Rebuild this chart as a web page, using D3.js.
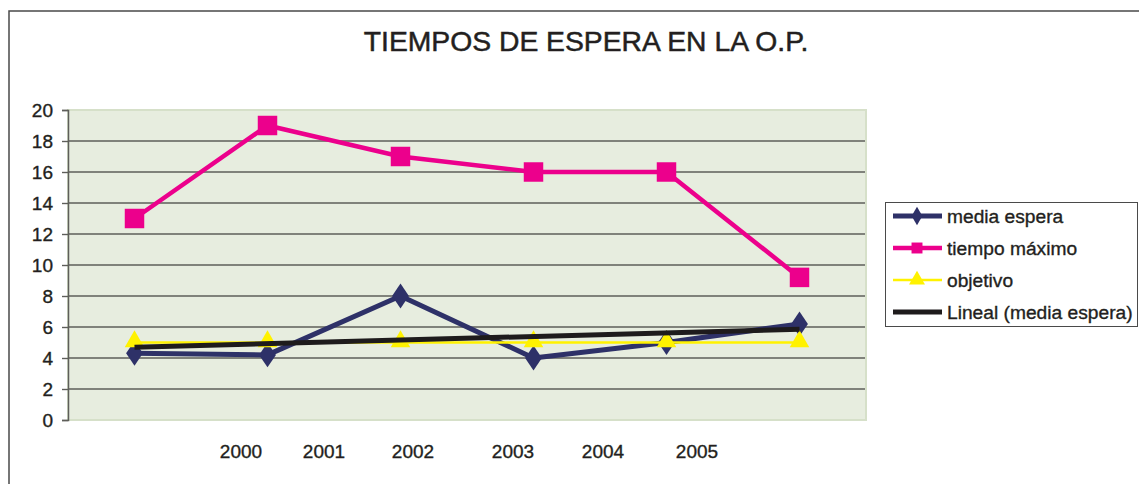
<!DOCTYPE html>
<html>
<head>
<meta charset="utf-8">
<script src="https://cdn.jsdelivr.net/npm/d3@7"></script>
<style>
  body { margin: 0; background: #fff; }
  text { font-family: "Liberation Sans", Arial, sans-serif; fill: #231f20; stroke: #231f20; stroke-width: 0.35px; }
</style>
</head>
<body>
<svg id="grafico" width="1139" height="484"></svg>
<script>
// Datos
var puntos = [1, 2, 3, 4, 5, 6];
var mediaEspera = [4.3, 4.2, 8, 4, 5, 6.2];
var tiempoMaximo = [13, 19, 17, 16, 16, 9.2];
var objetivo = [5, 5, 5, 5, 5, 5];
var tendencia = [4.7, 5.85]; // Lineal (media espera), valores en el primer y ultimo punto
var etiquetasX = ["2000", "2001", "2002", "2003", "2004", "2005"];
var ticksY = [0, 2, 4, 6, 8, 10, 12, 14, 16, 18, 20];

// Posiciones de las etiquetas del eje x (estan desplazadas en el original)
var posEtiquetasX = [241, 324, 413, 513, 603, 697];

var svg = d3.select("#grafico");

// Marco exterior
svg.append("path")
  .attr("d", "M9,484 L9,11 L1139,11")
  .attr("fill", "none")
  .attr("stroke", "#4a4a4a")
  .attr("stroke-width", 1.5);

// Titulo
svg.append("text")
  .attr("x", 586)
  .attr("y", 51)
  .attr("text-anchor", "middle")
  .style("font-size", "28.3px")
  .style("stroke-width", "0.5px")
  .text("TIEMPOS DE ESPERA EN LA O.P.");

var margen = { left: 68, right: 866, top: 110, bottom: 420 };

var x = d3.scaleBand()
  .domain(puntos)
  .range([margen.left, margen.right])
  .padding(0);

var y = d3.scaleLinear()
  .domain([0, 20])
  .range([margen.bottom, margen.top]);

function cx(d, i) { return x(puntos[i]) + x.bandwidth() / 2; }

// Fondo del area de trazado
svg.append("rect")
  .attr("x", margen.left)
  .attr("y", margen.top)
  .attr("width", margen.right - margen.left)
  .attr("height", margen.bottom - margen.top)
  .attr("fill", "#e7eddf")
  .attr("stroke", "#d6e0c9")
  .attr("stroke-width", 2);

// Lineas de division
svg.selectAll(".grid")
  .data(ticksY.filter(function (d) { return d > 0 && d < 20; }))
  .enter().append("line")
  .attr("class", "grid")
  .attr("x1", margen.left)
  .attr("x2", margen.right - 1)
  .attr("y1", function (d) { return y(d); })
  .attr("y2", function (d) { return y(d); })
  .attr("stroke", "#5e5e5a")
  .attr("stroke-width", 1.4);

// Eje y
var ejeY = svg.append("g")
  .attr("transform", "translate(" + margen.left + ",0)")
  .call(d3.axisLeft(y).tickValues(ticksY).tickSize(6).tickPadding(9));
ejeY.select(".domain").attr("stroke", "#5e5e5a").attr("stroke-width", 1.5);
ejeY.selectAll(".tick line").attr("stroke", "#5e5e5a").attr("stroke-width", 1.4);
ejeY.selectAll(".tick text")
  .style("font-size", "19px")
  .style("font-family", "'Liberation Sans', Arial, sans-serif")
  .attr("fill", "#231f20");

// Etiquetas del eje x
svg.selectAll(".etiquetaX")
  .data(etiquetasX)
  .enter().append("text")
  .attr("class", "etiquetaX")
  .attr("x", function (d, i) { return posEtiquetasX[i]; })
  .attr("y", 458)
  .attr("text-anchor", "middle")
  .style("font-size", "19px")
  .text(function (d) { return d; });

var linea = d3.line()
  .x(cx)
  .y(function (d) { return y(d); });

var diamante = d3.symbol().type(d3.symbolDiamond).size(210);
var cuadrado = d3.symbol().type(d3.symbolSquare).size(380);
var triangulo = d3.symbol().type(d3.symbolTriangle).size(165);

// media espera
svg.append("path")
  .datum(mediaEspera)
  .attr("d", linea)
  .attr("fill", "none")
  .attr("stroke", "#2e3168")
  .attr("stroke-width", 5)
  .attr("stroke-linejoin", "round");
svg.selectAll(".media")
  .data(mediaEspera)
  .enter().append("path")
  .attr("class", "media")
  .attr("d", diamante)
  .attr("transform", function (d, i) { return "translate(" + cx(d, i) + "," + y(d) + ") scale(1.08,0.92)"; })
  .attr("fill", "#2e3168");

// tiempo maximo
svg.append("path")
  .datum(tiempoMaximo)
  .attr("d", linea)
  .attr("fill", "none")
  .attr("stroke", "#ec008c")
  .attr("stroke-width", 4.5);
svg.selectAll(".maximo")
  .data(tiempoMaximo)
  .enter().append("path")
  .attr("class", "maximo")
  .attr("d", cuadrado)
  .attr("transform", function (d, i) { return "translate(" + cx(d, i) + "," + y(d) + ")"; })
  .attr("fill", "#ec008c");

// objetivo
svg.append("path")
  .datum(objetivo)
  .attr("d", linea)
  .attr("fill", "none")
  .attr("stroke", "#fff200")
  .attr("stroke-width", 2.5);
svg.selectAll(".objetivo")
  .data(objetivo)
  .enter().append("path")
  .attr("class", "objetivo")
  .attr("d", triangulo)
  .attr("transform", function (d, i) { return "translate(" + cx(d, i) + "," + (y(d) - 1) + ")"; })
  .attr("fill", "#fff200");

// Lineal (media espera)
var primero = puntos[0], ultimo = puntos[puntos.length - 1];
svg.append("line")
  .attr("x1", x(primero) + x.bandwidth() / 2)
  .attr("x2", x(ultimo) + x.bandwidth() / 2)
  .attr("y1", y(tendencia[0]))
  .attr("y2", y(tendencia[1]))
  .attr("stroke", "#1e1b1c")
  .attr("stroke-width", 5);

// Leyenda
var leyenda = svg.append("g");
leyenda.append("rect")
  .attr("x", 885.5)
  .attr("y", 202.5)
  .attr("width", 252)
  .attr("height", 124)
  .attr("fill", "#fff")
  .attr("stroke", "#4a4a4a")
  .attr("stroke-width", 1);

var series = [
  { nombre: "media espera", color: "#2e3168", ancho: 5, simbolo: d3.symbol().type(d3.symbolDiamond).size(100) },
  { nombre: "tiempo máximo", color: "#ec008c", ancho: 4.5, simbolo: d3.symbol().type(d3.symbolSquare).size(120) },
  { nombre: "objetivo", color: "#fff200", ancho: 2.5, simbolo: d3.symbol().type(d3.symbolTriangle).size(110) },
  { nombre: "Lineal (media espera)", color: "#1e1b1c", ancho: 5, simbolo: null }
];

var filas = leyenda.selectAll(".fila")
  .data(series)
  .enter().append("g")
  .attr("class", "fila")
  .attr("transform", function (d, i) { return "translate(0," + (216 + i * 32) + ")"; });

filas.append("line")
  .attr("x1", 893)
  .attr("x2", 942)
  .attr("stroke", function (d) { return d.color; })
  .attr("stroke-width", function (d) { return d.ancho; });

filas.filter(function (d) { return d.simbolo; })
  .append("path")
  .attr("d", function (d) { return d.simbolo(); })
  .attr("transform", "translate(917,0)")
  .attr("fill", function (d) { return d.color; });

filas.append("text")
  .attr("x", 947)
  .attr("dy", "0.35em")
  .style("font-size", "19.2px")
  .text(function (d) { return d.nombre; });
</script>
</body>
</html>
